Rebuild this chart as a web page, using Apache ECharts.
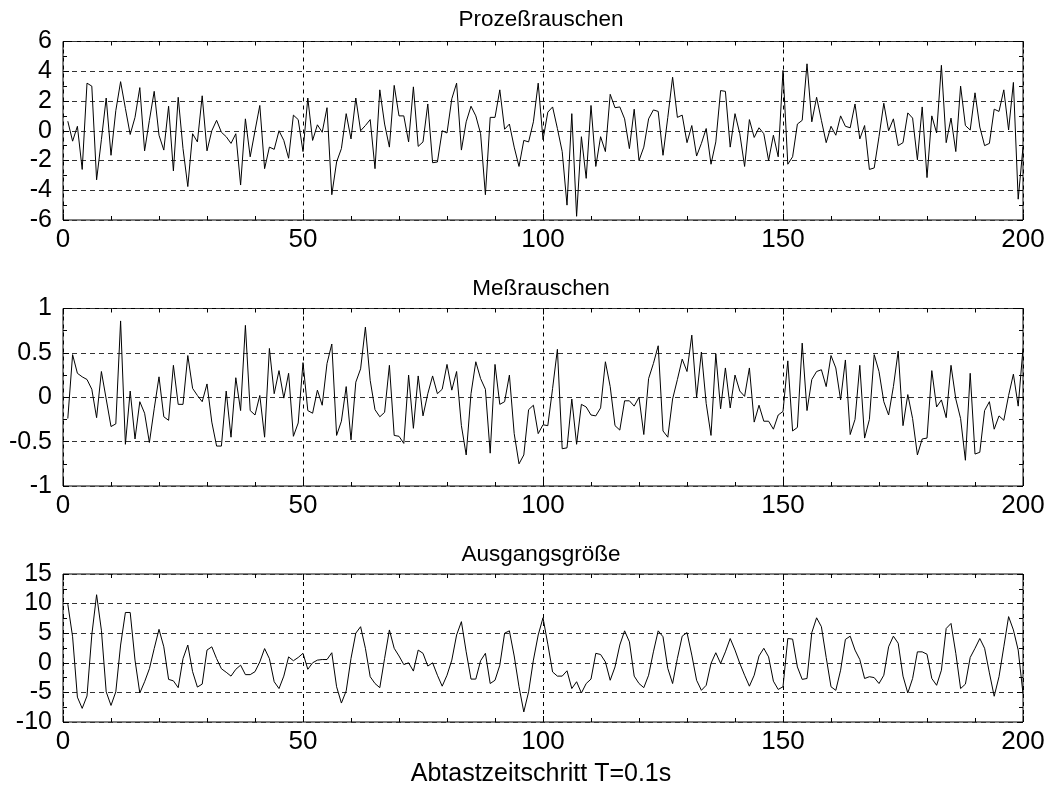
<!DOCTYPE html>
<html><head><meta charset="utf-8">
<script src="https://cdn.jsdelivr.net/npm/echarts@6/dist/echarts.min.js"></script>
<style>html,body{margin:0;padding:0;background:#fff}#c{width:1049px;height:785px}</style>
</head><body><div id="c"></div>
<script>
// Sample index runs 1..200
const prozess = [
 0.64,-0.7,0.3,-2.6,3.2,3.0,-3.3,-0.6,2.2,-1.65,
 1.35,3.3,1.5,-0.25,0.9,2.9,-1.35,0.7,2.65,-0.3,
 -1.3,1.65,-2.7,2.25,-1.2,-3.75,-0.2,-0.75,2.35,-1.35,
 0.0,0.7,-0.1,-0.4,-0.85,-0.2,-3.65,0.8,-1.75,0.0,
 1.7,-2.55,-1.1,-1.25,0.0,-0.65,-1.85,1.05,0.75,-1.4,
 2.2,-0.65,0.4,-0.1,1.55,-4.3,-2.1,-1.2,1.15,-0.55,
 2.2,0.0,0.35,0.75,-2.55,2.75,0.45,-1.1,3.05,1.0,
 1.0,-0.75,2.95,-1.05,-0.75,1.8,-2.15,-2.1,0.0,-0.15,
 2.15,3.2,-1.3,0.6,1.65,1.0,-0.2,-4.3,0.9,0.9,
 2.75,0.1,0.45,-1.1,-2.4,-0.65,-0.75,0.6,3.2,-0.6,
 1.25,1.6,0.15,-1.4,-5.0,1.15,-5.75,-0.4,-3.2,1.7,
 -2.4,-0.4,-1.4,2.45,1.55,1.6,0.8,-1.2,1.45,-2.0,
 -1.1,0.8,1.4,1.3,-1.65,0.9,3.6,0.9,1.05,-0.8,
 0.35,-1.7,-0.85,0.15,-2.25,-0.75,2.7,2.65,-1.1,1.15,
 -0.2,-2.4,0.75,-0.45,0.2,-0.2,-2.0,-0.3,-1.75,4.05,
 -2.25,-1.75,0.45,0.7,4.5,0.6,2.25,0.7,-0.8,0.3,
 -0.3,1.0,0.3,0.2,1.8,-0.55,0.35,-2.6,-2.5,-0.4,
 1.85,0.0,0.8,-1.0,-0.8,1.2,0.85,-1.95,1.6,-3.15,
 1.0,-0.15,4.4,-0.8,0.85,-1.4,3.0,0.35,0.05,2.55,
 0.25,-1.0,-0.85,1.45,1.3,2.75,0.05,3.25,-4.6,-1.1
];
const mess = [
 -0.24,0.48,0.27,0.23,0.2,0.09,-0.23,0.29,-0.02,-0.33,
 -0.3,0.86,-0.53,0.07,-0.47,-0.05,-0.18,-0.51,-0.13,0.23,
 -0.22,-0.26,0.36,-0.08,-0.08,0.47,0.1,0.02,-0.05,0.15,
 -0.28,-0.55,-0.55,0.07,-0.45,0.22,-0.15,0.81,-0.15,-0.2,
 0.02,-0.45,0.55,0.04,0.3,-0.01,0.27,-0.44,-0.29,0.39,
 -0.15,-0.18,0.08,-0.09,0.38,0.6,-0.43,-0.27,0.12,-0.48,
 0.17,0.32,0.79,0.19,-0.14,-0.22,-0.17,0.36,-0.43,-0.44,
 -0.52,0.25,-0.35,0.24,-0.21,0.04,0.24,0.04,0.09,0.37,
 0.08,0.29,-0.32,-0.65,0.04,0.4,0.21,0.09,-0.63,0.37,
 -0.08,-0.05,0.25,-0.41,-0.75,-0.65,-0.14,-0.09,-0.41,-0.31,
 -0.32,0.1,0.54,-0.58,-0.57,-0.02,-0.53,-0.08,-0.11,-0.2,
 -0.21,-0.12,0.4,0.12,-0.32,-0.37,-0.04,-0.04,-0.1,0.0,
 -0.42,0.21,0.38,0.58,-0.38,-0.45,-0.02,0.2,0.43,0.29,
 0.7,0.0,0.51,-0.07,-0.43,0.49,-0.13,0.33,-0.12,0.25,
 0.07,0.01,0.33,-0.28,-0.09,-0.27,-0.27,-0.36,-0.2,-0.16,
 0.41,-0.38,-0.34,0.61,-0.15,0.2,0.29,0.31,0.12,0.47,
 0.33,-0.03,0.42,-0.42,-0.25,0.36,-0.46,-0.25,0.48,0.29,
 -0.05,-0.2,0.12,0.52,-0.32,0.03,-0.24,-0.65,-0.47,-0.46,
 0.3,-0.11,-0.03,-0.23,0.36,-0.02,-0.24,-0.71,0.27,-0.64,
 -0.62,-0.15,-0.05,-0.36,-0.21,-0.26,0.02,0.26,-0.1,0.55
];
const ausgang = [
 9.9,4.4,-5.8,-7.7,-5.6,4.7,11.5,5.5,-4.9,-7.2,
 -4.9,3.0,8.5,8.5,0.45,-5.1,-3.2,-1.0,2.4,5.65,
 2.7,-2.8,-3.05,-4.2,0.7,3.0,-1.5,-4.1,-3.6,2.15,
 2.7,0.7,-1.0,-1.6,-2.25,-1.1,-0.4,-2.0,-2.0,-1.5,
 0.15,2.4,0.7,-3.2,-4.35,-2.25,1.0,0.35,0.9,1.6,
 -1.1,0.0,0.45,0.55,0.55,1.7,-4.05,-6.8,-4.75,0.75,
 5.0,6.1,2.45,-2.35,-3.5,-4.2,0.75,5.55,2.45,1.15,
 -0.3,0.0,-1.4,2.15,1.6,-0.55,0.0,-2.1,-3.95,-2.1,
 0.45,4.7,6.95,1.85,-2.75,-2.75,0.35,1.6,-3.5,-2.95,
 -0.4,5.0,5.4,1.15,-4.05,-8.3,-4.9,0.45,4.7,7.6,
 3.15,-1.55,-2.25,-2.25,-1.35,-4.35,-3.2,-5.1,-3.5,-2.75,
 1.6,1.4,0.15,-2.95,-0.7,3.0,5.4,3.55,-2.25,-3.5,
 -4.2,-2.1,1.85,5.4,4.4,-0.95,-3.5,0.75,4.5,5.1,
 1.3,-2.95,-4.65,-3.8,-0.1,1.7,-0.1,1.85,4.1,2.15,
 -0.1,-2.1,-3.95,-2.1,1.15,2.45,1.0,-3.1,-4.5,-4.05,
 4.1,4.0,-0.7,-2.8,-2.65,5.1,7.6,6.1,0.9,-4.05,
 -4.65,-1.25,3.95,4.5,2.15,0.55,-2.65,-2.35,-2.5,-3.5,
 -2.1,2.7,4.5,3.3,-2.25,-5.1,-2.65,1.85,1.85,1.45,
 -2.65,-3.8,-1.25,5.8,6.65,1.6,-4.35,-3.6,0.9,2.45,
 4.1,2.45,-1.7,-5.65,-2.35,2.7,7.8,5.55,2.15,-5.2
];
const xTicks = [0, 50, 100, 150, 200];
const yMin = [-6, -1, -10];
const yMax = [6, 1, 15];
const yStep = [2, 0.5, 5];
const titles = ['Prozeßrauschen', 'Meßrauschen', 'Ausgangsgröße'];
const xLabel = 'Abtastzeitschritt T=0.1s';

const FONT = "'Liberation Sans', Arial, Helvetica, sans-serif";
const seriesData = [prozess, mess, ausgang];
const gridPos = [
  {top: 41.5, height: 178.5},
  {top: 308.5, height: 177.5},
  {top: 574, height: 148}
];
const titleTops = [3, 272, 538, 757];

const grids = gridPos.map(g => ({
  left: 63, width: 960, top: g.top, height: g.height,
  show: true, borderColor: '#000', borderWidth: 1, backgroundColor: 'transparent'
}));

const tickStyle = {color: '#000', width: 1};
const xAxes = [], yAxes = [], series = [];
for (let k = 0; k < 3; k++) {
  const common = {
    type: 'value', gridIndex: k,
    min: xTicks[0], max: xTicks[xTicks.length - 1], interval: xTicks[1] - xTicks[0],
    axisLine: {show: false, onZero: false},
    axisTick: {show: true, inside: true, length: 6, lineStyle: tickStyle},
    minorTick: {show: true, splitNumber: 5, length: 4, lineStyle: tickStyle}
  };
  xAxes.push(Object.assign({}, common, {
    position: 'bottom',
    axisLabel: {color: '#000', fontSize: 26, fontFamily: FONT, margin: 7},
    splitLine: {show: true, lineStyle: {color: '#000', type: [4, 4], width: 1}}
  }));
  xAxes.push(Object.assign({}, common, {
    position: 'top',
    axisLabel: {show: false},
    splitLine: {show: false}
  }));
  const ycommon = {
    type: 'value', gridIndex: k,
    min: yMin[k], max: yMax[k], interval: yStep[k],
    axisLine: {show: false, onZero: false},
    axisTick: {show: true, inside: true, length: 6, lineStyle: tickStyle},
    minorTick: {show: true, splitNumber: 2, length: 4, lineStyle: tickStyle}
  };
  yAxes.push(Object.assign({}, ycommon, {
    position: 'left',
    axisLabel: {color: '#000', fontSize: 25, fontFamily: FONT, margin: 11},
    splitLine: {show: true, lineStyle: {color: '#333', type: [5, 4], width: 1}}
  }));
  yAxes.push(Object.assign({}, ycommon, {
    position: 'right',
    axisLabel: {show: false},
    splitLine: {show: false}
  }));
  series.push({
    type: 'line',
    xAxisIndex: 2 * k, yAxisIndex: 2 * k,
    data: seriesData[k].map((v, i) => [i + 1, v]),
    showSymbol: false, symbol: 'none',
    lineStyle: {color: '#000', width: 1},
    animation: false, silent: true
  });
}

const titleOpts = titles.concat([xLabel]).map((t, i) => ({
  text: t, left: 536, top: titleTops[i], textAlign: 'center',
  textStyle: {color: '#000', fontSize: i === 3 ? 25 : 22.5, fontWeight: 'normal', fontFamily: FONT}
}));

const chart = echarts.init(document.getElementById('c'), null, {renderer: 'canvas'});
chart.setOption({
  backgroundColor: '#fff',
  animation: false,
  title: titleOpts,
  grid: grids,
  xAxis: xAxes,
  yAxis: yAxes,
  series: series
});
</script>
</body></html>
